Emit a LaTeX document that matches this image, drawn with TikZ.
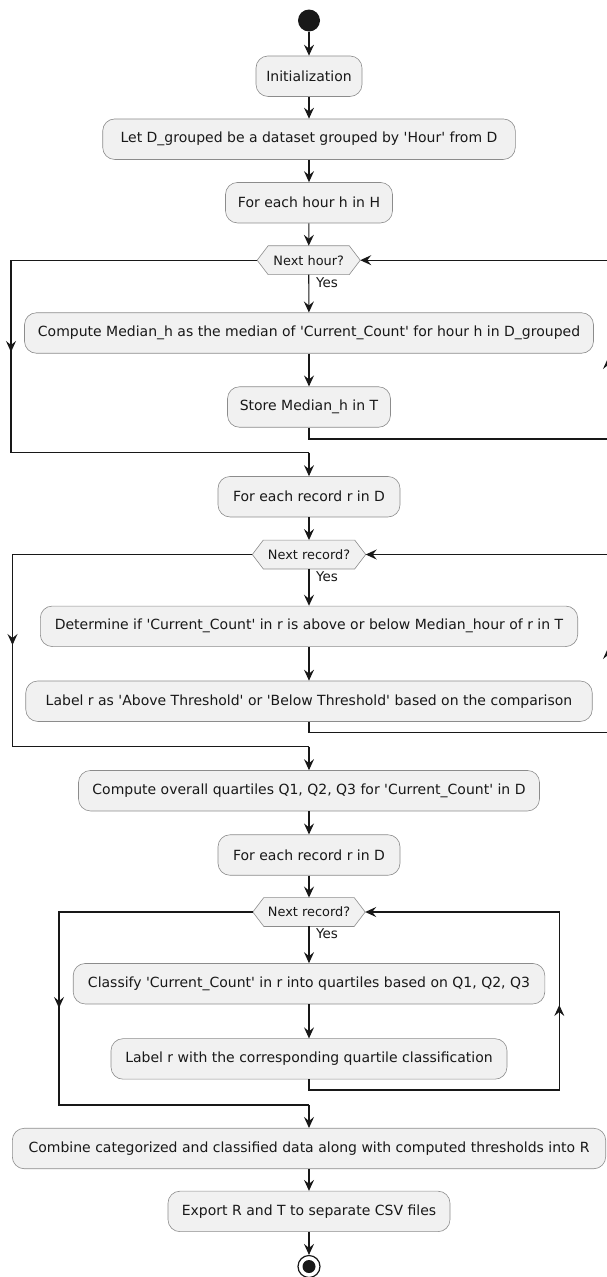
\documentclass[tikz,border=0pt]{standalone}
\usepackage{fontspec}
\setmainfont{DejaVu Sans}
\usetikzlibrary{arrows.meta,backgrounds}
\definecolor{boxfill}{HTML}{F1F1F1}
\definecolor{boxline}{HTML}{8C8C8C}
\definecolor{ink}{HTML}{181818}
% straight apostrophe
\newcommand{\sq}{\textquotesingle}

\begin{document}
\begin{tikzpicture}[x=1pt,y=-1pt,
  act/.style={draw=boxline, line width=0.6pt, fill=boxfill, rounded corners=12pt,
    minimum height=40.5pt, inner sep=0pt, font=\fontsize{14}{16}\selectfont, text=ink},
  guard/.style={draw=none, fill=none, minimum height=28.5pt, inner sep=0pt,
    font=\fontsize{12.9}{15}\selectfont, text=ink},
  hexline/.style={draw=boxline, line width=0.6pt, fill=boxfill},
  branch/.style={font=\fontsize{13.5}{15}\selectfont, text=ink, inner sep=0pt},
  flow/.style={draw=ink, line width=1.1pt},
  tip/.style={flow, -{Stealth[length=11pt,width=10pt,inset=4pt]}},
  startdot/.style={circle, fill=ink, draw=none, minimum size=22pt, inner sep=0pt},
  stopring/.style={circle, fill=white, draw=ink, line width=1.2pt, minimum size=22pt, inner sep=0pt},
  stopcore/.style={circle, fill=ink, draw=none, minimum size=13pt, inner sep=0pt}]

\useasboundingbox (0,0) rectangle (606,1277);

% ---- actions ----
\node[startdot] (start) at (309,20.5) {};
\node[act, minimum width=106pt]   (init)    at (309,76.2)   {Initialization};
\node[act, minimum width=412.6pt] (group)   at (309,139.2)  {Let D\_grouped be a dataset grouped by \sq Hour\sq\ from D};
\node[act, minimum width=167pt]   (hours)   at (309,202.7)  {For each hour h in H};
\node[guard, minimum width=102.7pt] (d1)    at (308.7,260.2) {Next hour?};
\node[branch] (yes1) at (327,283) {Yes};
\node[act, minimum width=569pt]   (median)  at (309,333)    {Compute Median\_h as the median of \sq Current\_Count\sq\ for hour h in D\_grouped};
\node[act, minimum width=163pt]   (store)   at (309,407)    {Store Median\_h in T};
\node[act, minimum width=182pt]   (rec1)    at (309,496.7)  {For each record r in D};
\node[guard, minimum width=113pt] (d2)      at (309,554.5)  {Next record?};
\node[branch] (yes2) at (327,576.7) {Yes};
\node[act, minimum width=537.4pt] (compare) at (309,626.3)  {Determine if \sq Current\_Count\sq\ in r is above or below Median\_hour of r in T};
\node[act, minimum width=566.5pt] (thresh)  at (309,701.2)  {Label r as \sq Above Threshold\sq\ or \sq Below Threshold\sq\ based on the comparison};
\node[act, minimum width=461pt]   (quart)   at (309,790.7)  {Compute overall quartiles Q1, Q2, Q3 for \sq Current\_Count\sq\ in D};
\node[act, minimum width=182pt]   (rec2)    at (309,855)    {For each record r in D};
\node[guard, minimum width=112pt] (d3)      at (309,912)    {Next record?};
\node[branch] (yes3) at (327,934) {Yes};
\node[act, minimum width=471.6pt] (classify) at (309,983.7) {Classify \sq Current\_Count\sq\ in r into quartiles based on Q1, Q2, Q3};
\node[act, minimum width=396pt]   (qlabel)  at (309,1058.9) {Label r with the corresponding quartile classification};
\node[act, minimum width=593.4pt] (combine) at (309,1148.5) {Combine categorized and classified data along with computed thresholds into R};
\node[act, minimum width=282pt]   (export)  at (309,1211.4) {Export R and T to separate CSV files};
\node[stopring] (stop) at (309,1266.5) {};
\node[stopcore] (stopc) at (stop.center) {};

% ---- hexagonal loop guards, behind their labels ----
\begin{scope}[on background layer]
  \foreach \d in {d1,d2,d3} {
    \draw[hexline] (\d.west) -- ([xshift=11pt]\d.north west) -- ([xshift=-11pt]\d.north east)
      -- (\d.east) -- ([xshift=-11pt]\d.south east) -- ([xshift=11pt]\d.south west) -- cycle;
  }
\end{scope}

% ---- straight flow ----
\draw[tip] (start) -- (init);
\draw[tip] (init) -- (group);
\draw[tip] (group) -- (hours);
\draw[tip] (hours) -- (d1);
\draw[tip] (d1) -- (median);
\draw[tip] (median) -- (store);
\draw[tip] (rec1) -- (d2);
\draw[tip] (d2) -- (compare);
\draw[tip] (compare) -- (thresh);
\draw[tip] (quart) -- (rec2);
\draw[tip] (rec2) -- (d3);
\draw[tip] (d3) -- (classify);
\draw[tip] (classify) -- (qlabel);
\draw[tip] (combine) -- (export);
\draw[tip] (export) -- (stop);

% ---- loop 1: hours ----
\coordinate (a1) at (11,260.2);   \coordinate (a1m) at (11,352);
\coordinate (a2) at (11,452.7); \coordinate (a3) at (309,452.7);
\draw[flow] (d1.west) -- (a1) -- (a2) -- (a3);
\draw[tip] (a1) -- (a1m);
\draw[tip] (a3) -- (rec1);
\coordinate (b1) at (309,439); \coordinate (b2) at (608,439);
\coordinate (b2m) at (608,358); \coordinate (b3) at (608,260.2);
\draw[tip] (store.south) -- (b1) -- (b2) -- (b3) -- (d1.east);
\draw[tip] (b2) -- (b2m);

% ---- loop 2: thresholds ----
\coordinate (c1) at (12.5,554.5);   \coordinate (c1m) at (12.5,645);
\coordinate (c2) at (12.5,746.7); \coordinate (c3) at (309,746.7);
\draw[flow] (d2.west) -- (c1) -- (c2) -- (c3);
\draw[tip] (c1) -- (c1m);
\draw[tip] (c3) -- (quart);
\coordinate (e1) at (309,732.7); \coordinate (e2) at (608,732.7);
\coordinate (e2m) at (608,648); \coordinate (e3) at (608,554.5);
\draw[tip] (thresh.south) -- (e1) -- (e2) -- (e3) -- (d2.east);
\draw[tip] (e2) -- (e2m);

% ---- loop 3: quartiles ----
\coordinate (f1) at (59,912);   \coordinate (f1m) at (59,1008);
\coordinate (f2) at (59,1105);  \coordinate (f3) at (309,1105);
\draw[flow] (d3.west) -- (f1) -- (f2) -- (f3);
\draw[tip] (f1) -- (f1m);
\draw[tip] (f3) -- (combine);
\coordinate (g1) at (309,1090); \coordinate (g2) at (559.3,1090);
\coordinate (g2m) at (559.3,1005); \coordinate (g3) at (559.3,912);
\draw[tip] (qlabel.south) -- (g1) -- (g2) -- (g3) -- (d3.east);
\draw[tip] (g2) -- (g2m);
\end{tikzpicture}
\end{document}
